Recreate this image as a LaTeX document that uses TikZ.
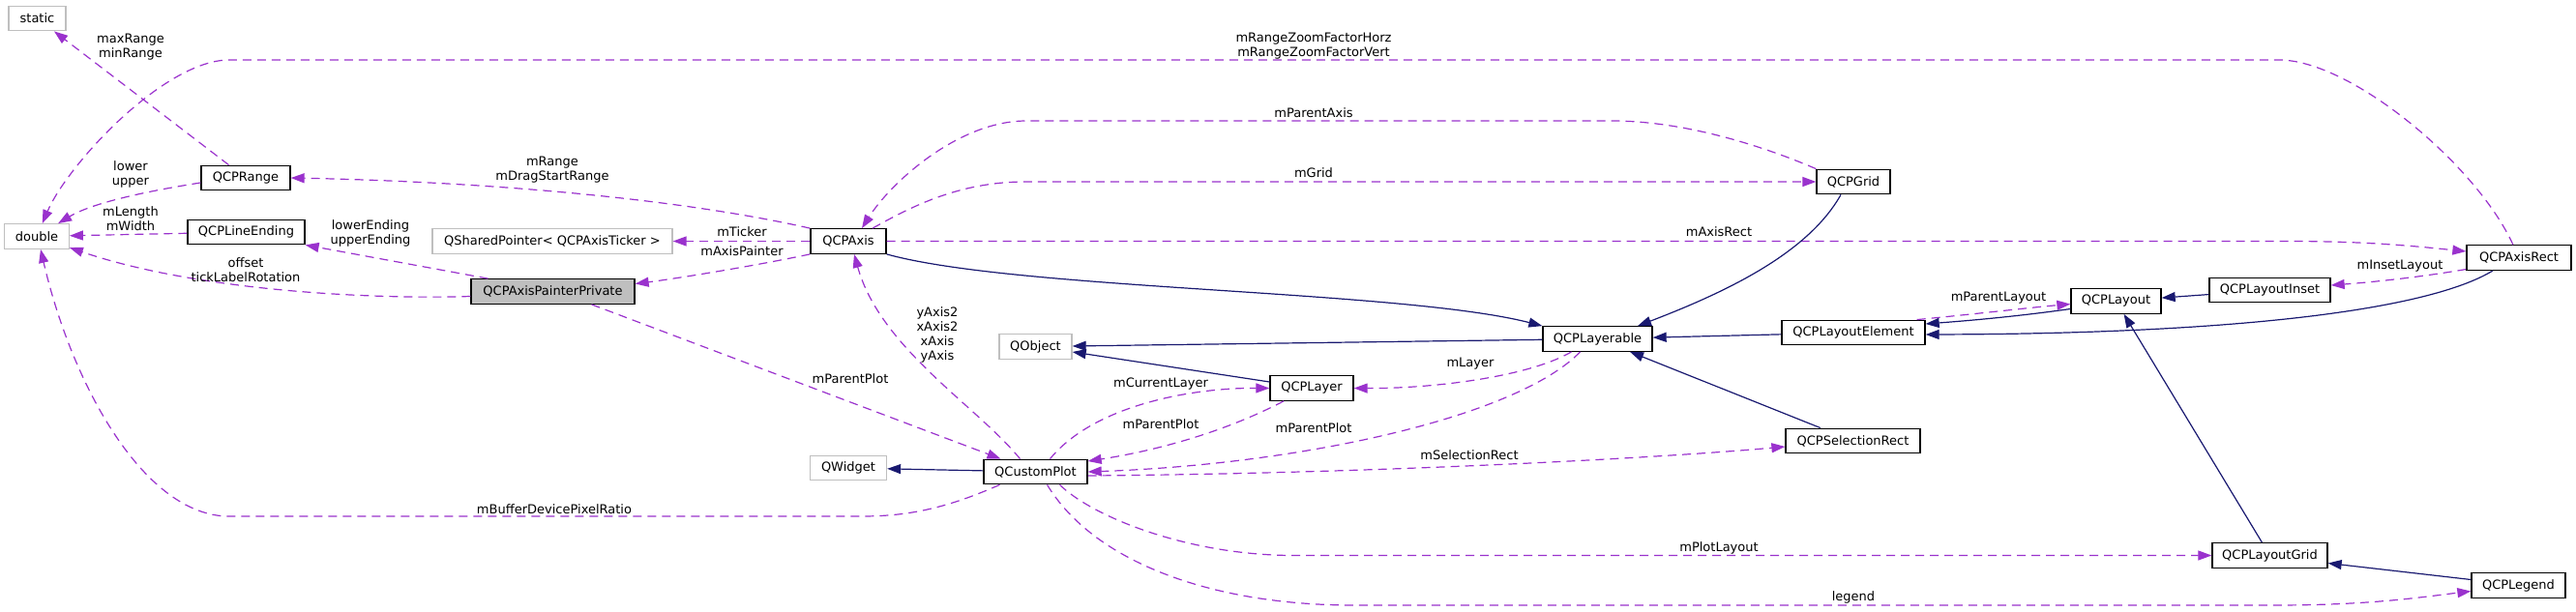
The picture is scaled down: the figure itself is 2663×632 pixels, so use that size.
\documentclass[tikz,border=0pt]{standalone}
\usepackage{fontspec}
\setmainfont{DejaVu Sans}
\usetikzlibrary{arrows.meta}
\definecolor{usecol}{HTML}{9A32CD}
\definecolor{inhcol}{HTML}{191970}
\definecolor{extcol}{HTML}{BFBFBF}
\begin{document}
\begin{tikzpicture}[x=1pt,y=-1pt,
  box/.style={draw=black,line width=1.3pt,minimum height=25.5pt,inner sep=0pt,fill=white,font=\fontsize{13}{15}\selectfont},
  ext/.style={box,draw=extcol},
  cur/.style={box,fill=extcol},
  lbl/.style={inner sep=0pt,align=center,font=\fontsize{13}{15}\selectfont},
  use/.style={draw=usecol,line width=1.2pt,dash pattern=on 9pt off 6pt,-{Triangle[length=14pt,width=10pt,fill=usecol]}},
  inh/.style={draw=inhcol,line width=1.2pt,-{Triangle[length=14pt,width=10pt,fill=inhcol]}}]
\useasboundingbox (0,0) rectangle (2663,632);

% nodes
\node[ext,minimum width=59pt] (static) at (38.5,19) {static};
\node[ext,minimum width=66.5pt] (double) at (38,244.5) {double};
\node[box,minimum width=92pt] (QCPRange) at (254,184) {QCPRange};
\node[box,minimum width=121pt] (QCPLineEnding) at (254.5,240) {QCPLineEnding};
\node[ext,minimum width=248pt] (QShared) at (571,249.5) {QSharedPointer< QCPAxisTicker >};
\node[cur,minimum width=169pt] (Painter) at (571.5,301.5) {QCPAxisPainterPrivate};
\node[box,minimum width=78pt] (QCPAxis) at (877,249.5) {QCPAxis};
\node[ext,minimum width=79pt] (QWidget) at (877,484) {QWidget};
\node[ext,minimum width=75pt] (QObject) at (1070.5,358.5) {QObject};
\node[box,minimum width=107pt] (QCustomPlot) at (1070.5,488) {QCustomPlot};
\node[box,minimum width=86pt] (QCPLayer) at (1356,401.5) {QCPLayer};
\node[box,minimum width=113pt] (QCPLayerable) at (1651.5,350.5) {QCPLayerable};
\node[box,minimum width=76pt] (QCPGrid) at (1916,188) {QCPGrid};
\node[box,minimum width=148pt] (QCPLayoutElement) at (1916,344) {QCPLayoutElement};
\node[box,minimum width=139pt] (QCPSelectionRect) at (1915.5,456) {QCPSelectionRect};
\node[box,minimum width=93pt] (QCPLayout) at (2187.5,311.5) {QCPLayout};
\node[box,minimum width=125pt] (QCPLayoutInset) at (2346.5,300) {QCPLayoutInset};
\node[box,minimum width=108pt] (QCPAxisRect) at (2604,266.5) {QCPAxisRect};
\node[box,minimum width=119pt] (QCPLayoutGrid) at (2346.5,574.5) {QCPLayoutGrid};
\node[box,minimum width=97pt] (QCPLegend) at (2603.5,605.5) {QCPLegend};

% usage edges
\draw[use] (QCPRange) -- (static);
\draw[use] ([yshift=-5pt]QCPRange.west) .. controls (150,198) and (95,210) .. (double);
\draw[use] (QCPAxisRect) .. controls (2560,170) and (2430,62) .. (2356,62) -- (237,62) .. controls (170,62) and (70,170) .. (double);
\draw[use] (QCPLineEnding) -- (double);
\draw[use] ([yshift=-5pt]Painter.west) .. controls (380,310) and (200,300) .. (double);
\draw[use] ([xshift=-67pt]Painter.north) -- (QCPLineEnding.south east);
\draw[use] (QCPAxis.north west) .. controls (700,205) and (500,188) .. (QCPRange.east);
\draw[use] (QCPAxis) -- (QShared);
\draw[use] (QCPAxis.south west) .. controls (780,275) and (700,288) .. ([yshift=8pt]Painter.east);
\draw[use] (QCPAxis.east) -- (2365,249.5) .. controls (2450,249.5) and (2500,255) .. ([yshift=6.5pt]QCPAxisRect.west);
\draw[use] (QCPGrid.north west) .. controls (1820,150) and (1740,125) .. (1666,125) -- (1061,125) .. controls (990,125) and (920,190) .. ([xshift=14pt]QCPAxis.north);
\draw[use] ([xshift=25pt]QCPAxis.north) .. controls (940,215) and (990,188) .. (1060,188) -- (QCPGrid.west);
\draw[use] ([xshift=-9pt]QCPLayoutElement.north east) .. controls (2040,325) and (2100,318) .. ([yshift=-3pt]QCPLayout.west);
\draw[use] ([yshift=-12pt]QCPAxisRect.west) .. controls (2500,287) and (2450,292) .. ([yshift=5pt]QCPLayoutInset.east);
\draw[use] ([xshift=25pt]QCustomPlot.south) .. controls (1130,535) and (1230,575) .. (1340,574.5) -- (QCPLayoutGrid.west);
\draw[use] ([xshift=12pt]QCustomPlot.south) .. controls (1130,580) and (1250,626) .. (1400,626) -- (2350,626) .. controls (2450,626) and (2500,618) .. ([yshift=-6pt]QCPLegend.west);
\draw[use] ([xshift=-29pt]QCPLayer.south) .. controls (1250,455) and (1170,470) .. ([yshift=11pt]QCustomPlot.east);
\draw[use] ([xshift=15pt]QCustomPlot.north) .. controls (1130,420) and (1230,401) .. (QCPLayer.west);
\draw[use] ([xshift=-27pt]QCPLayerable.south) .. controls (1580,390) and (1480,402) .. (QCPLayer.east);
\draw[use] ([xshift=-18pt]QCPLayerable.south) .. controls (1570,430) and (1350,480) .. (QCustomPlot.east);
\draw[use] ([yshift=-4pt]QCustomPlot.east) .. controls (1400,490) and (1700,475) .. ([yshift=-6pt]QCPSelectionRect.west);
\draw[use] ([xshift=40pt]Painter.south) -- ([xshift=-36pt]QCustomPlot.north);
\draw[use] ([xshift=-16pt]QCustomPlot.north) .. controls (1010,420) and (910,360) .. ([xshift=6pt]QCPAxis.south);
\draw[use] ([xshift=-37pt]QCustomPlot.south) .. controls (980,525) and (940,534) .. (891,534) -- (237,534) .. controls (150,534) and (75,400) .. ([xshift=4pt]double.south);

% inheritance edges
\draw[inh] (QCPAxis.south east) .. controls (1050,300) and (1450,300) .. (QCPLayerable.north west);
\draw[inh] ([xshift=-13pt]QCPGrid.south) .. controls (1870,260) and (1790,300) .. ([xshift=41.5pt]QCPLayerable.north);
\draw[inh] (QCPLayoutElement) -- (QCPLayerable);
\draw[inh] (QCPSelectionRect) -- (QCPLayerable);
\draw[inh] (QCPLayerable) -- (QObject);
\draw[inh] ([yshift=6.5pt]QCPLayer.west) -- ([yshift=-5.5pt]QObject.east);
\draw[inh] (QCustomPlot) -- (QWidget);
\draw[inh] ([yshift=-8pt]QCPLayout.west) .. controls (2080,328) and (2030,332) .. ([yshift=9pt]QCPLayoutElement.east);
\draw[inh] ([xshift=-27pt]QCPAxisRect.south) .. controls (2520,315) and (2350,345) .. ([yshift=-2pt]QCPLayoutElement.east);
\draw[inh] (QCPLayoutInset) -- (QCPLayout);
\draw[inh] (QCPLayoutGrid) -- (QCPLayout);
\draw[inh] ([yshift=6pt]QCPLegend.west) -- ([yshift=-8pt]QCPLayoutGrid.east);

% labels
\node[lbl] (l1) at (135,48.5) {maxRange\\minRange};
\node[lbl] (l2) at (135,180.5) {lower\\upper};
\node[lbl] (l3) at (1358,47.5) {mRangeZoomFactorHorz\\mRangeZoomFactorVert};
\node[lbl] (l4) at (135,226.5) {mLength\\mWidth};
\node[lbl] (l5) at (254,279) {offset\\tickLabelRotation};
\node[lbl] (l6) at (383,241) {lowerEnding\\upperEnding};
\node[lbl] (l7) at (571,175.5) {mRange\\mDragStartRange};
\node[lbl] (l8) at (767,240) {mTicker};
\node[lbl] (l9) at (767,260) {mAxisPainter};
\node[lbl] (l10) at (1777,240) {mAxisRect};
\node[lbl] (l11) at (1358,117) {mParentAxis};
\node[lbl] (l12) at (1358,179) {mGrid};
\node[lbl] (l13) at (2066,308) {mParentLayout};
\node[lbl] (l14) at (2481,275) {mInsetLayout};
\node[lbl] (l15) at (1777,567) {mPlotLayout};
\node[lbl] (l16) at (1916,618) {legend};
\node[lbl] (l17) at (1200,439) {mParentPlot};
\node[lbl] (l18) at (1200,397) {mCurrentLayer};
\node[lbl] (l19) at (1520,376) {mLayer};
\node[lbl] (l20) at (1358,443) {mParentPlot};
\node[lbl] (l21) at (1519,471) {mSelectionRect};
\node[lbl] (l22) at (879,392) {mParentPlot};
\node[lbl] (l23) at (969,346.5) {yAxis2\\xAxis2\\xAxis\\yAxis};
\node[lbl] (l24) at (573,527) {mBufferDevicePixelRatio};
\end{tikzpicture}
\end{document}
